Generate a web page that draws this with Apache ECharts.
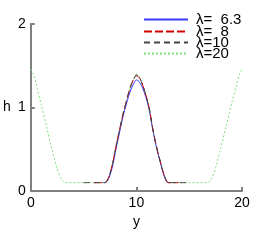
<!DOCTYPE html>
<html><head><meta charset="utf-8">
<script src="https://cdn.jsdelivr.net/npm/echarts@6/dist/echarts.min.js"></script>
<style>html,body{margin:0;padding:0;background:#fff}#c{width:270px;height:240px}</style>
</head><body><div id="c"></div>
<script>
// y positions and h values for each wavelength
const y63 = [6.85, 7, 7.25, 7.5, 7.75, 8, 8.25, 8.5, 8.75, 9, 9.25, 9.5, 9.75, 10, 10.25, 10.5, 10.75, 11, 11.25, 11.5, 11.75, 12, 12.25, 12.5, 12.75, 13, 13.15];
const h63 = [0.1, 0.1, 0.12, 0.19, 0.3, 0.46, 0.61, 0.76, 0.9, 1.02, 1.13, 1.22, 1.29, 1.33, 1.31, 1.26, 1.18, 1.08, 0.95, 0.77, 0.61, 0.47, 0.35, 0.23, 0.14, 0.1, 0.1];
const y8 = [6, 6.5, 7, 7.25, 7.5, 7.75, 8, 8.25, 8.5, 8.75, 9, 9.25, 9.5, 9.75, 10, 10.25, 10.5, 10.75, 11, 11.25, 11.5, 11.75, 12, 12.25, 12.5, 12.75, 13, 13.5, 14];
const h8 = [0.1, 0.1, 0.1, 0.13, 0.21, 0.33, 0.49, 0.64, 0.79, 0.93, 1.05, 1.17, 1.27, 1.34, 1.38, 1.36, 1.30, 1.21, 1.10, 0.97, 0.78, 0.62, 0.48, 0.36, 0.24, 0.15, 0.1, 0.1, 0.1];
const y10 = [5, 6, 7, 7.25, 7.5, 7.75, 8, 8.25, 8.5, 8.75, 9, 9.25, 9.5, 9.75, 10, 10.25, 10.5, 10.75, 11, 11.25, 11.5, 11.75, 12, 12.25, 12.5, 12.75, 13, 14, 15];
const h10 = [0.1, 0.1, 0.1, 0.13, 0.21, 0.33, 0.49, 0.64, 0.79, 0.93, 1.05, 1.17, 1.27, 1.34, 1.39, 1.37, 1.30, 1.21, 1.10, 0.97, 0.78, 0.62, 0.48, 0.36, 0.24, 0.15, 0.1, 0.1, 0.1];
const y20 = [0, 0.25, 0.5, 1, 1.5, 2, 2.5, 3, 3.5, 5, 7, 7.25, 7.5, 7.75, 8, 8.25, 8.5, 8.75, 9, 9.25, 9.5, 9.75, 10, 10.25, 10.5, 10.75, 11, 11.25, 11.5, 11.75, 12, 12.25, 12.5, 12.75, 13, 15, 16.5, 17, 17.5, 18, 18.5, 19, 19.5, 19.75, 20];
const h20 = [1.46, 1.40, 1.29, 1.03, 0.77, 0.50, 0.27, 0.12, 0.1, 0.1, 0.1, 0.13, 0.21, 0.33, 0.49, 0.64, 0.79, 0.93, 1.05, 1.17, 1.27, 1.34, 1.40, 1.37, 1.30, 1.21, 1.10, 0.97, 0.78, 0.62, 0.48, 0.36, 0.24, 0.15, 0.1, 0.1, 0.1, 0.12, 0.28, 0.52, 0.78, 1.04, 1.28, 1.39, 1.46];
const names = ['λ=  6.3', 'λ=  8', 'λ=10', 'λ=20'];

const pairs = (xs, ys) => xs.map((x, i) => [x, ys[i]]);
const font = 'Liberation Sans, Arial, sans-serif';
const axisCol = '#808080';
const legendTops = [12, 24, 35, 46];
const chart = echarts.init(document.getElementById('c'), null, {renderer: 'canvas'});
chart.setOption({
  animation: false,
  backgroundColor: '#fff',
  grid: {left: 27, right: 28, top: 24, bottom: 49, containLabel: false},
  legend: names.map((n, i) => ({
    orient: 'vertical', left: 143, top: legendTops[i], itemWidth: 44, itemHeight: 10, padding: 0,
    itemStyle: {opacity: 0, borderWidth: 0},
    lineStyle: {width: 2},
    textStyle: {fontFamily: font, fontSize: 15, color: '#000', padding: [0, 0, 0, 3]},
    data: [n]
  })),
  xAxis: {
    type: 'value', min: 0, max: 20, interval: 10,
    name: 'y', nameLocation: 'middle', nameGap: 18,
    nameTextStyle: {fontFamily: font, fontSize: 14, color: '#000'},
    axisLine: {lineStyle: {color: axisCol, width: 2}},
    axisTick: {inside: true, length: 4, lineStyle: {color: axisCol, width: 2}},
    axisLabel: {fontFamily: font, fontSize: 14, color: '#000', margin: 5},
    splitLine: {show: false}
  },
  yAxis: {
    type: 'value', min: 0, max: 2, interval: 1,
    name: 'h', nameLocation: 'middle', nameGap: 20, nameRotate: 0,
    nameTextStyle: {fontFamily: font, fontSize: 14, color: '#000'},
    axisLine: {show: true, lineStyle: {color: axisCol, width: 2}},
    axisTick: {show: true, inside: true, length: 4, lineStyle: {color: axisCol, width: 2}},
    axisLabel: {fontFamily: font, fontSize: 14, color: '#000', margin: 5},
    splitLine: {show: false}
  },
  series: [
    {name: names[0], type: 'line', data: pairs(y63, h63), smooth: 0.3, symbol: 'none', lineStyle: {color: '#3a3aff', width: 1}, itemStyle: {color: '#3a3aff'}, z: 2},
    {name: names[1], type: 'line', data: pairs(y8, h8), smooth: 0.3, symbol: 'none', lineStyle: {color: '#d00000', width: 1, type: [8, 3]}, itemStyle: {color: '#d00000'}, z: 3},
    {name: names[2], type: 'line', data: pairs(y10, h10), smooth: 0.3, symbol: 'none', lineStyle: {color: '#444444', width: 1, type: [6, 4]}, itemStyle: {color: '#444444'}, z: 4},
    {name: names[3], type: 'line', data: pairs(y20, h20), smooth: 0.3, symbol: 'none', lineStyle: {color: '#7fe07f', width: 1, type: [2, 2]}, itemStyle: {color: '#7fe07f'}, z: 1}
  ]
});
</script></body></html>
